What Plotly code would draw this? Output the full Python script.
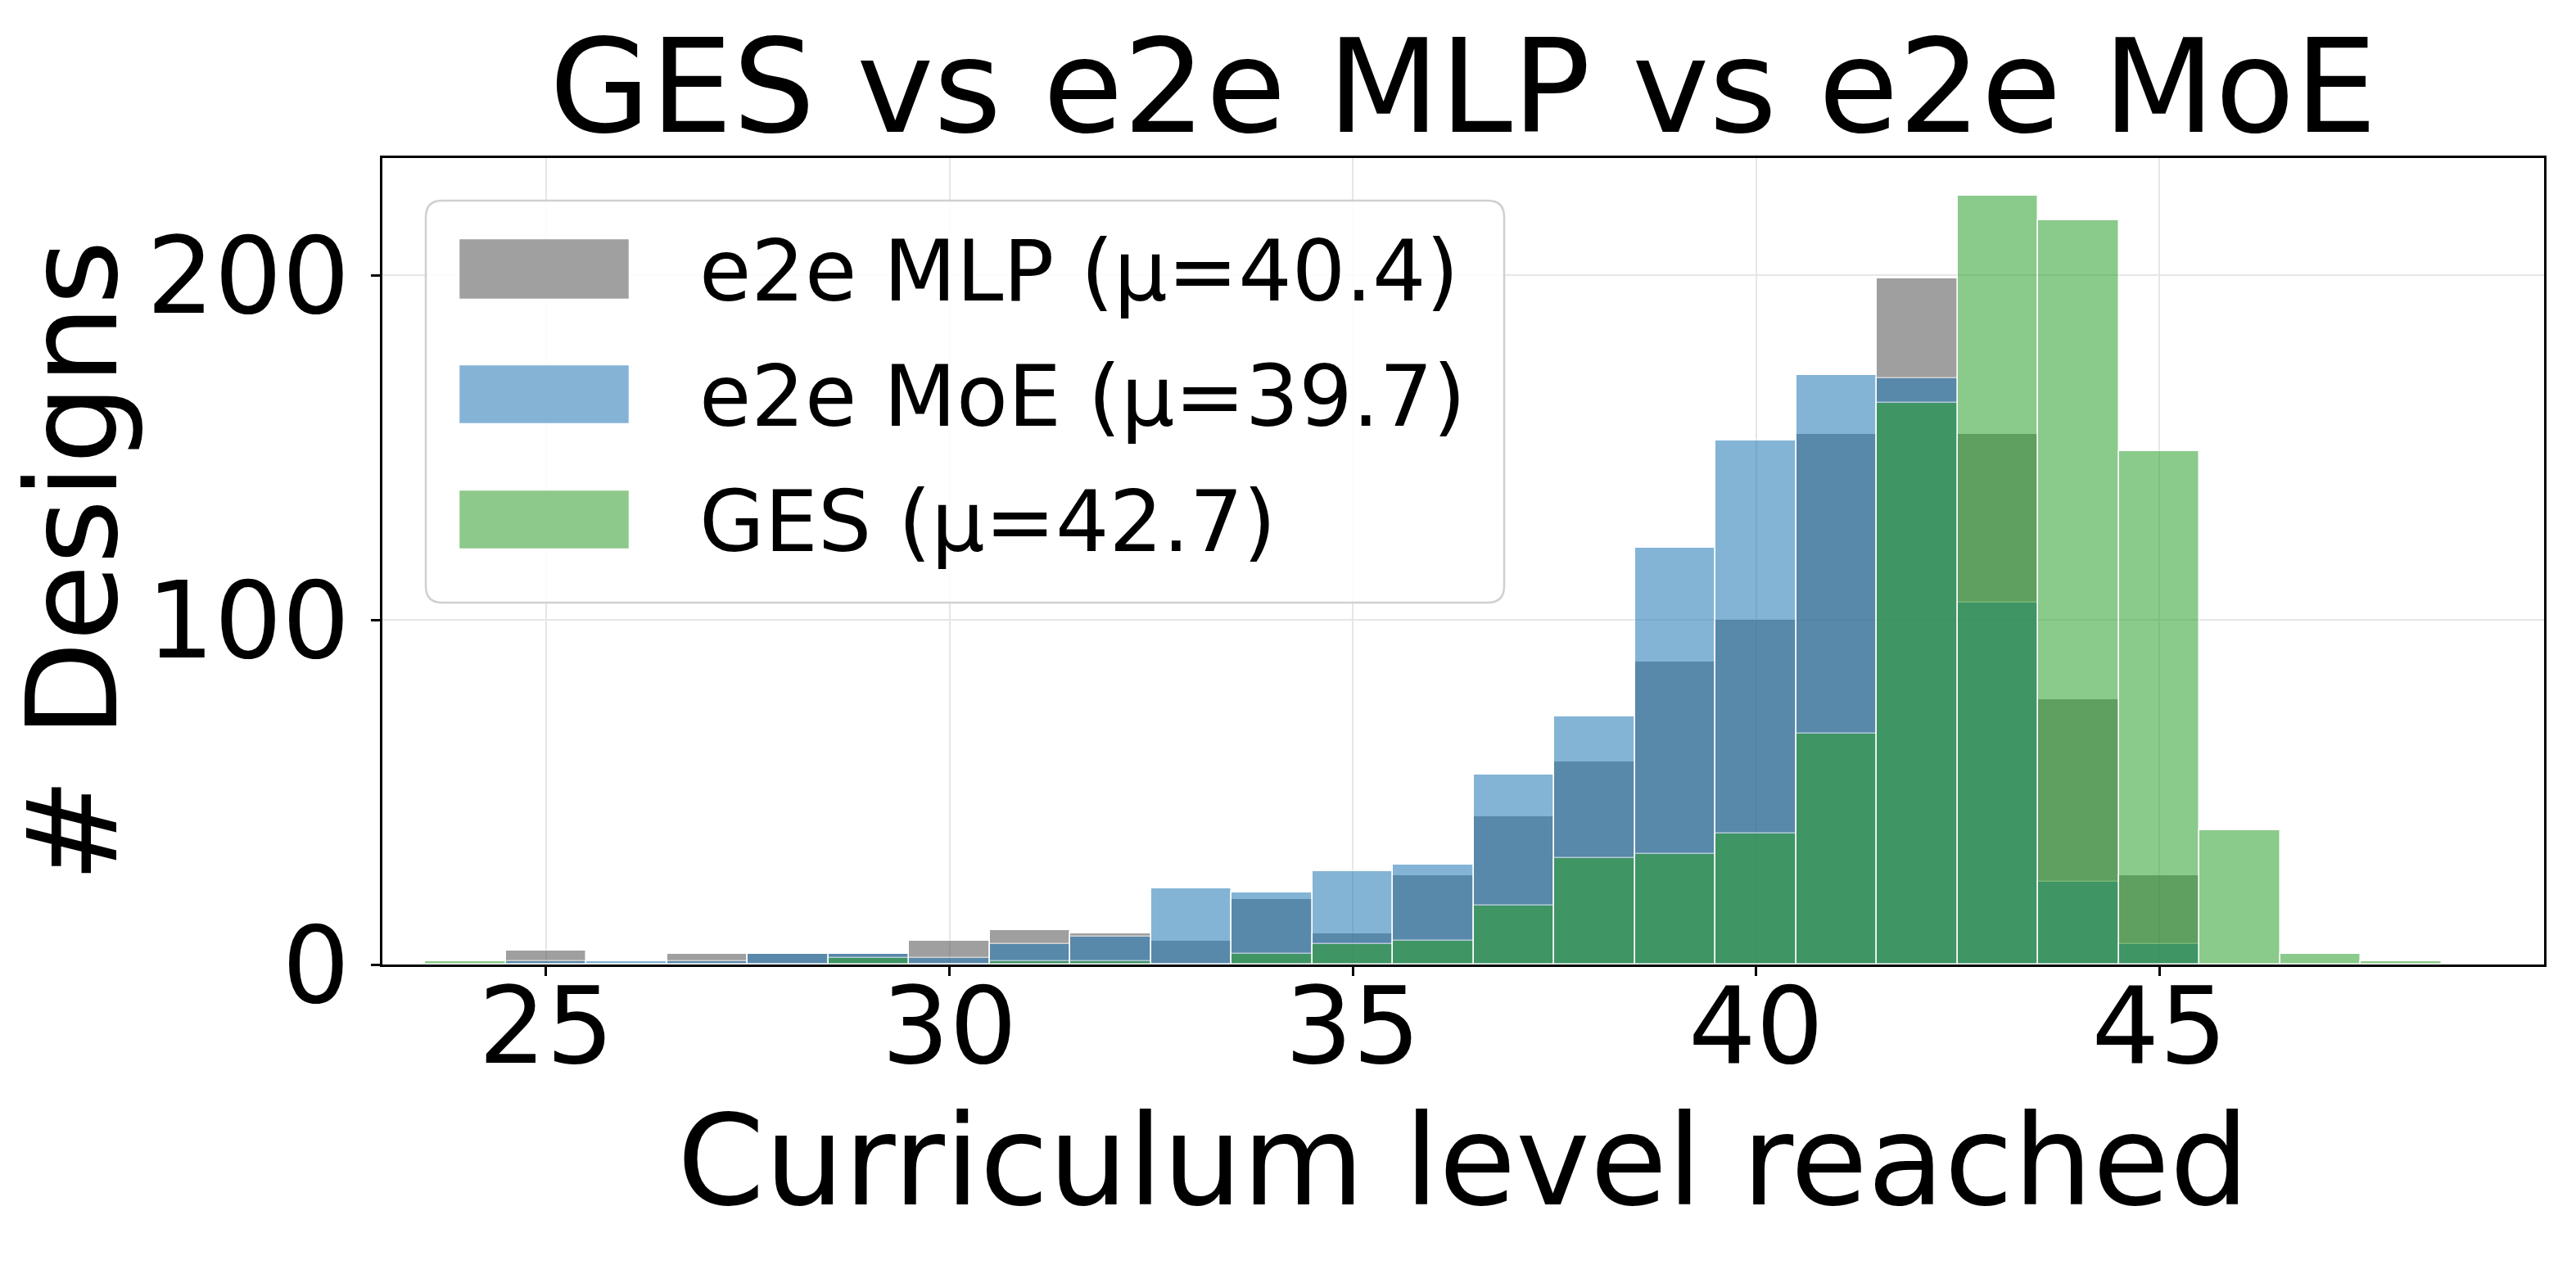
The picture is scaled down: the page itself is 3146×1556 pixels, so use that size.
import plotly.graph_objects as go

# ---- data ----
levels = [24, 25, 26, 27, 28, 29, 30, 31, 32, 33, 34, 35, 36,
          37, 38, 39, 40, 41, 42, 43, 44, 45, 46, 47, 48]
mlp_counts = [0, 4, 0, 3, 3, 3, 7, 10, 9, 7, 19, 9, 26,
              43, 59, 88, 100, 154, 199, 154, 77, 26, 0, 0, 0]
moe_counts = [0, 1, 1, 1, 3, 3, 2, 6, 8, 22, 21, 27, 29,
              55, 72, 121, 152, 171, 170, 105, 24, 6, 0, 0, 0]
ges_counts = [1, 0, 0, 0, 0, 2, 0, 1, 1, 0, 3, 6, 7,
              17, 31, 32, 38, 67, 163, 223, 216, 149, 39, 3, 1]
series_names = ["e2e MLP (μ=40.4)", "e2e MoE (μ=39.7)", "GES (μ=42.7)"]
x_ticks = [25, 30, 35, 40, 45]
y_ticks = [0, 100, 200]

# ---- style ----
FONT = "DejaVu Sans"
W, H = 3146, 1556
L, R, T, B = 467, 3107, 193, 1178           # plot area in px
base_colors = ["rgb(82,82,82)", "rgb(31,119,180)", "rgb(44,160,44)"]
swatch_colors = ["#a0a0a0", "#85b3d6", "#8cc98a"]
ALPHA = 0.55

fig = go.Figure()
for name, counts, col in zip(series_names, [mlp_counts, moe_counts, ges_counts], base_colors):
    fig.add_trace(go.Bar(
        x=levels, y=counts, width=1, name=name,
        marker=dict(color=col, line=dict(color="white", width=1.5)),
        opacity=ALPHA, showlegend=False,
    ))

def px_x(px):
    return (px - L) / (R - L)

def px_y(py):
    return (B - py) / (B - T)

# custom legend (rounded frame + large swatches + text)
lx0, lx1, ly0, ly1 = 520, 1837, 245, 736
rad = 20
rx, ry = rad / (R - L), rad / (B - T)
X0, X1, Yt, Yb = px_x(lx0), px_x(lx1), px_y(ly0), px_y(ly1)
path = (f"M {X0+rx},{Yt} L {X1-rx},{Yt} Q {X1},{Yt} {X1},{Yt-ry} "
        f"L {X1},{Yb+ry} Q {X1},{Yb} {X1-rx},{Yb} L {X0+rx},{Yb} "
        f"Q {X0},{Yb} {X0},{Yb+ry} L {X0},{Yt-ry} Q {X0},{Yt} {X0+rx},{Yt} Z")
shapes = [dict(type="path", path=path, xref="paper", yref="paper",
               fillcolor="rgba(255,255,255,0.85)", line=dict(color="#d0d0d0", width=2.5),
               layer="above")]
annotations = []
rows = [(292, 365), (446, 517), (599, 670)]
for (y0, y1), name, sc in zip(rows, series_names, swatch_colors):
    shapes.append(dict(type="rect", xref="paper", yref="paper",
                       x0=px_x(561), x1=px_x(768), y0=px_y(y1), y1=px_y(y0),
                       fillcolor=sc, line=dict(color="rgba(255,255,255,0.5)", width=1),
                       layer="above"))
    annotations.append(dict(text=name, xref="paper", yref="paper",
                            x=px_x(852), y=px_y((y0 + y1) / 2 + 2),
                            xanchor="left", yanchor="middle", showarrow=False,
                            font=dict(family=FONT, size=103, color="black")))

fig.update_layout(
    width=W, height=H,
    margin=dict(l=L, r=W - R, t=T, b=H - B, pad=0),
    paper_bgcolor="white", plot_bgcolor="white",
    barmode="overlay", bargap=0,
    font=dict(family=FONT, color="black"),
    title=dict(text="GES vs e2e MLP vs e2e MoE", x=0.5, xref="paper", xanchor="center",
               y=1 - 105 / H, yref="container", yanchor="middle",
               font=dict(family=FONT, size=159, color="black")),
    shapes=shapes, annotations=annotations,
    showlegend=False,
)
fig.update_xaxes(
    range=[22.97, 49.77], tickvals=x_ticks, ticktext=[str(v) for v in x_ticks],
    showline=True, linecolor="black", linewidth=2.5, mirror=True,
    ticks="outside", ticklen=11, tickwidth=2.5, tickcolor="black",
    ticklabelstandoff=-50,
    tickfont=dict(family=FONT, size=130, color="black"),
    showgrid=True, gridcolor="#e6e6e6", gridwidth=2, zeroline=False,
    title=dict(text="Curriculum level reached", standoff=35,
               font=dict(family=FONT, size=153, color="black")),
)
fig.update_yaxes(
    range=[0, 234], tickvals=y_ticks, ticktext=[str(v) for v in y_ticks],
    showline=True, linecolor="black", linewidth=2.5, mirror=True,
    ticks="outside", ticklen=11, tickwidth=2.5, tickcolor="black",
    tickfont=dict(family=FONT, size=130, color="black"),
    showgrid=True, gridcolor="#e6e6e6", gridwidth=2, zeroline=False,
    title=dict(text="# Designs", standoff=2,
               font=dict(family=FONT, size=153, color="black")),
)

fig.write_html("out.html")
